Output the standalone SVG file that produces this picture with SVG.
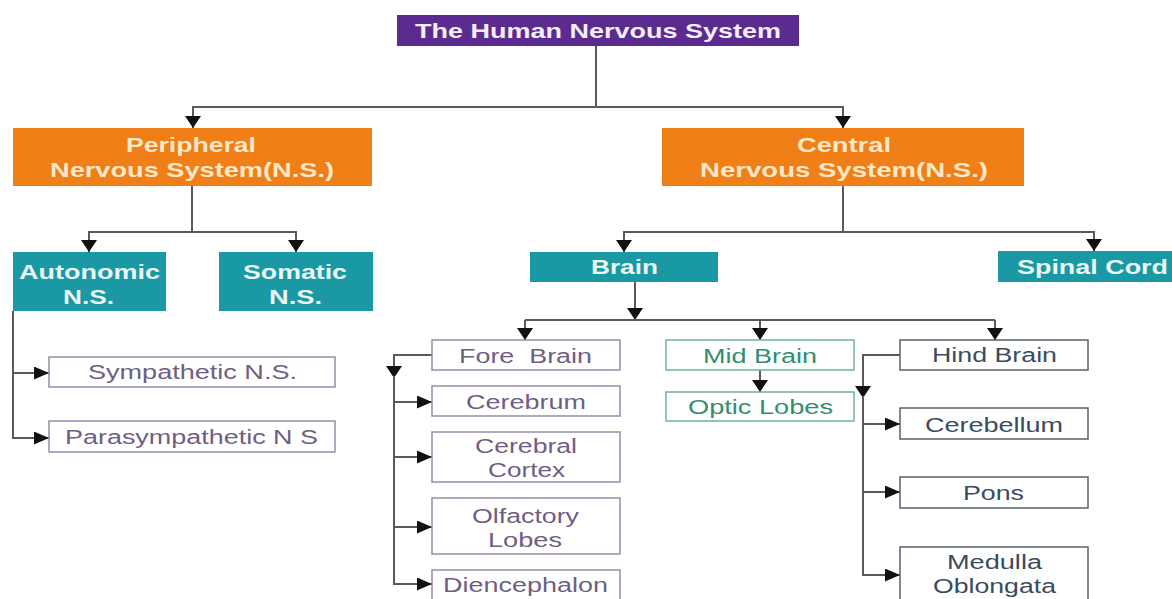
<svg xmlns="http://www.w3.org/2000/svg" width="1172" height="599" viewBox="0 0 1172 599">
<style>
.bt{font-family:"Liberation Sans",Arial,sans-serif;font-weight:bold;font-size:21px}
.nt{font-family:"Liberation Sans",Arial,sans-serif;font-size:20px}
.ln{fill:none;stroke:#5a5a5a;stroke-width:2}
.pu{fill:#5b2b8f}
.or{fill:#ef7f16}
.te{fill:#1a98a4}
.wp{fill:#fff;stroke:#9a8aa8;stroke-width:1.5}
.wg{fill:#fff;stroke:#6bb59b;stroke-width:1.5}
.wb{fill:#fff;stroke:#56616c;stroke-width:1.5}
.tp{fill:#6f5e83}
.tg{fill:#2f8f6f}
.tb{fill:#3b4b5e}
.lo{fill:#fde7c9}
.lt{fill:#e9f6f5}
</style>
<defs>
<marker id="ad" markerUnits="userSpaceOnUse" viewBox="0 0 12 16" markerWidth="12" markerHeight="16" refX="12" refY="8" orient="auto">
<path d="M0,0 L12,8 L0,16 z" fill="#111"/>
</marker>
<marker id="ar" markerUnits="userSpaceOnUse" viewBox="0 0 15 13" markerWidth="15" markerHeight="13" refX="15" refY="6.5" orient="auto">
<path d="M0,0 L15,6.5 L0,13 z" fill="#111"/>
</marker>
</defs>
<rect width="1172" height="599" fill="#fff"/>
<g id="connectors">
<path class="ln" d="M596,46 V107 H193 V128" marker-end="url(#ad)"/>
<path class="ln" d="M596,107 H843 V128" marker-end="url(#ad)"/>
<path class="ln" d="M192,186 V232 H89 V252" marker-end="url(#ad)"/>
<path class="ln" d="M192,232 H296 V252" marker-end="url(#ad)"/>
<path class="ln" d="M13,311 V438 H49" marker-end="url(#ar)"/>
<path class="ln" d="M13,373 H49" marker-end="url(#ar)"/>
<path class="ln" d="M843,186 V232 H624 V252" marker-end="url(#ad)"/>
<path class="ln" d="M843,232 H1094 V251" marker-end="url(#ad)"/>
<path class="ln" d="M635,282 V320" marker-end="url(#ad)"/>
<path class="ln" d="M525,320 H995"/>
<path class="ln" d="M525,320 V340" marker-end="url(#ad)"/>
<path class="ln" d="M760,320 V340" marker-end="url(#ad)"/>
<path class="ln" d="M995,320 V340" marker-end="url(#ad)"/>
<path class="ln" d="M760,370 V392" marker-end="url(#ad)"/>
<path class="ln" d="M432,355 H394 V378" marker-end="url(#ad)"/>
<path class="ln" d="M394,376 V584 H432" marker-end="url(#ar)"/>
<path class="ln" d="M394,402 H432" marker-end="url(#ar)"/>
<path class="ln" d="M394,457 H432" marker-end="url(#ar)"/>
<path class="ln" d="M394,527 H432" marker-end="url(#ar)"/>
<path class="ln" d="M900,355 H863 V398" marker-end="url(#ad)"/>
<path class="ln" d="M863,396 V575 H900" marker-end="url(#ar)"/>
<path class="ln" d="M863,424 H900" marker-end="url(#ar)"/>
<path class="ln" d="M863,492 H900" marker-end="url(#ar)"/>
</g>
<g id="title">
<rect class="pu" x="397" y="15" width="402" height="31"/>
<text class="bt" x="415" y="38" font-size="22" fill="#f4eefa" textLength="366" lengthAdjust="spacingAndGlyphs">The Human Nervous System</text>
</g>
<g id="peripheral">
<rect class="or" x="13" y="128" width="359" height="58"/>
<text class="bt lo" x="126" y="152" textLength="130" lengthAdjust="spacingAndGlyphs">Peripheral</text>
<text class="bt lo" x="50" y="177" textLength="284" lengthAdjust="spacingAndGlyphs">Nervous System(N.S.)</text>
</g>
<g id="central">
<rect class="or" x="662" y="128" width="362" height="58"/>
<text class="bt lo" x="797" y="152" textLength="94" lengthAdjust="spacingAndGlyphs">Central</text>
<text class="bt lo" x="700" y="177" textLength="288" lengthAdjust="spacingAndGlyphs">Nervous System(N.S.)</text>
</g>
<g id="autonomic">
<rect class="te" x="13" y="252" width="153" height="59"/>
<text class="bt lt" x="19" y="279" textLength="141" lengthAdjust="spacingAndGlyphs">Autonomic</text>
<text class="bt lt" x="63" y="304" textLength="51" lengthAdjust="spacingAndGlyphs">N.S.</text>
</g>
<g id="somatic">
<rect class="te" x="219" y="252" width="154" height="59"/>
<text class="bt lt" x="243" y="279" textLength="104" lengthAdjust="spacingAndGlyphs">Somatic</text>
<text class="bt lt" x="269" y="304" textLength="53" lengthAdjust="spacingAndGlyphs">N.S.</text>
</g>
<g id="sympathetic">
<rect class="wp" x="49" y="357" width="286" height="30"/>
<text class="nt tp" x="88" y="379" textLength="209" lengthAdjust="spacingAndGlyphs">Sympathetic N.S.</text>
</g>
<g id="parasympathetic">
<rect class="wp" x="49" y="421" width="286" height="31"/>
<text class="nt tp" x="65" y="444" textLength="253" lengthAdjust="spacingAndGlyphs">Parasympathetic N S</text>
</g>
<g id="brain">
<rect class="te" x="530" y="252" width="188" height="30"/>
<text class="bt lt" x="591" y="274" textLength="67" lengthAdjust="spacingAndGlyphs">Brain</text>
</g>
<g id="spinal-cord">
<rect class="te" x="998" y="251" width="180" height="31"/>
<text class="bt lt" x="1017" y="274" textLength="151" lengthAdjust="spacingAndGlyphs">Spinal Cord</text>
</g>
<g id="fore-brain">
<rect class="wp" x="432" y="340" width="188" height="30"/>
<text class="nt tp" x="459" y="363" textLength="133" lengthAdjust="spacingAndGlyphs" xml:space="preserve">Fore  Brain</text>
</g>
<g id="cerebrum">
<rect class="wp" x="432" y="386" width="188" height="30"/>
<text class="nt tp" x="466" y="409" textLength="120" lengthAdjust="spacingAndGlyphs">Cerebrum</text>
</g>
<g id="cerebral-cortex">
<rect class="wp" x="432" y="432" width="188" height="50"/>
<text class="nt tp" x="475" y="453" textLength="102" lengthAdjust="spacingAndGlyphs">Cerebral</text>
<text class="nt tp" x="488" y="477" textLength="77" lengthAdjust="spacingAndGlyphs">Cortex</text>
</g>
<g id="olfactory-lobes">
<rect class="wp" x="432" y="498" width="188" height="56"/>
<text class="nt tp" x="472" y="523" textLength="107" lengthAdjust="spacingAndGlyphs">Olfactory</text>
<text class="nt tp" x="488" y="547" textLength="74" lengthAdjust="spacingAndGlyphs">Lobes</text>
</g>
<g id="diencephalon">
<rect class="wp" x="432" y="570" width="188" height="40"/>
<text class="nt tp" x="443" y="592" textLength="165" lengthAdjust="spacingAndGlyphs">Diencephalon</text>
</g>
<g id="mid-brain">
<rect class="wg" x="666" y="340" width="188" height="30"/>
<text class="nt tg" x="703" y="363" textLength="114" lengthAdjust="spacingAndGlyphs">Mid Brain</text>
</g>
<g id="optic-lobes">
<rect class="wg" x="666" y="392" width="188" height="29"/>
<text class="nt tg" x="688" y="414" textLength="145" lengthAdjust="spacingAndGlyphs">Optic Lobes</text>
</g>
<g id="hind-brain">
<rect class="wb" x="900" y="340" width="188" height="30"/>
<text class="nt tb" x="932" y="362" textLength="125" lengthAdjust="spacingAndGlyphs">Hind Brain</text>
</g>
<g id="cerebellum">
<rect class="wb" x="900" y="408" width="188" height="31"/>
<text class="nt tb" x="925" y="432" textLength="138" lengthAdjust="spacingAndGlyphs">Cerebellum</text>
</g>
<g id="pons">
<rect class="wb" x="900" y="477" width="188" height="31"/>
<text class="nt tb" x="963" y="500" textLength="61" lengthAdjust="spacingAndGlyphs">Pons</text>
</g>
<g id="medulla-oblongata">
<rect class="wb" x="900" y="547" width="188" height="60"/>
<text class="nt tb" x="947" y="569" textLength="95" lengthAdjust="spacingAndGlyphs">Medulla</text>
<text class="nt tb" x="933" y="593" textLength="123" lengthAdjust="spacingAndGlyphs">Oblongata</text>
</g>
</svg>
